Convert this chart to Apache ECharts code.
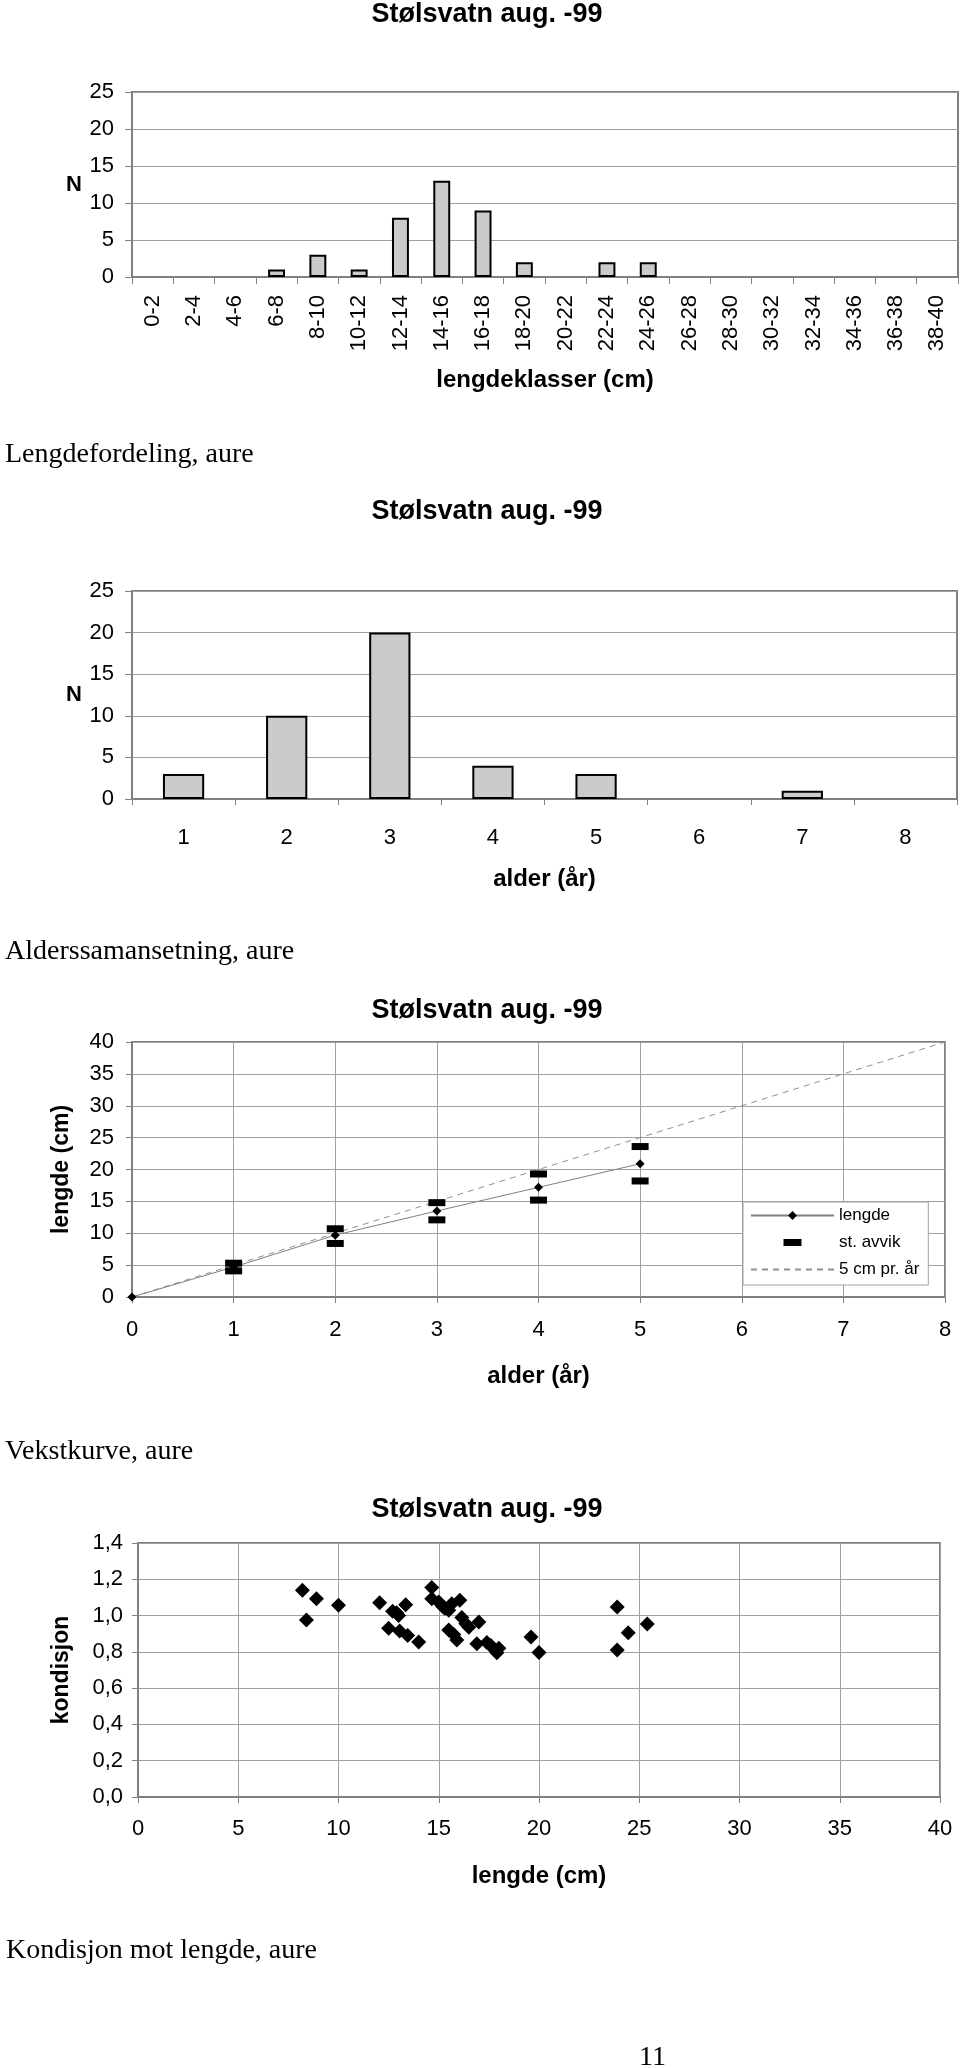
<!DOCTYPE html>
<html>
<head>
<meta charset="utf-8">
<script src="https://cdn.jsdelivr.net/npm/echarts@6/dist/echarts.min.js"></script>
<style>
html,body{margin:0;padding:0;background:#fff;}
#c{width:960px;height:2068px;}
</style>
</head>
<body>
<div id="c"></div>
<script>
// ---------- data ----------
const titleText = 'Stølsvatn aug. -99';
const captions = ['Lengdefordeling, aure', 'Alderssamansetning, aure', 'Vekstkurve, aure', 'Kondisjon mot lengde, aure'];
const pageNumber = '11';

const lengthClasses = ['0-2','2-4','4-6','6-8','8-10','10-12','12-14','14-16','16-18','18-20','20-22','22-24','24-26','26-28','28-30','30-32','32-34','34-36','36-38','38-40'];
const lengthCounts  = [0,0,0,1,3,1,8,13,9,2,0,2,2,0,0,0,0,0,0,0];

const ageClasses = ['1','2','3','4','5','6','7','8'];
const ageCounts  = [3,10,20,4,3,0,1,0];

const growthAges = [0,1,2,3,4,5];
const growthMean = [0,4.7,9.7,13.5,17.2,20.9];
const sdAges  = [1,2,3,4,5];
const sdUpper = [5.3,10.7,14.8,19.3,23.6];
const sdLower = [4.1,8.4,12.1,15.2,18.2];
const refAges   = [0,8];
const refLength = [0,40];

const fishLength    = [8.2,8.4,8.9,10.0,12.05,12.5,12.7,12.9,13.0,13.35,13.05,13.45,14.0,14.65,14.65,15.0,15.2,15.3,15.5,15.65,16.05,15.5,15.75,15.9,16.15,16.35,16.5,17.0,16.9,17.4,17.6,17.8,18.0,17.9,19.6,20.0,23.9,23.9,24.45,25.4];
const fishCondition = [1.14,0.975,1.093,1.057,1.07,0.93,1.024,1.015,1.0,1.06,0.915,0.89,0.855,1.155,1.093,1.075,1.05,1.04,1.03,1.065,1.085,0.92,0.895,0.865,0.99,0.955,0.935,0.965,0.845,0.852,0.835,0.81,0.82,0.795,0.882,0.797,1.047,0.81,0.905,0.953];
const conditionTicks = ['0,0','0,2','0,4','0,6','0,8','1,0','1,2','1,4'];

// ---------- styles ----------
const SANS = '"Liberation Sans", Arial, Helvetica, sans-serif';
const SERIF = '"Liberation Serif", "Times New Roman", serif';
const AXIS_COLOR = '#808080';
const GRID_COLOR = '#a0a0a0';

function axisLine() { return {show:true, onZero:false, lineStyle:{color:AXIS_COLOR, width:2}}; }
function axisTick(extra) { return Object.assign({show:true, length:6, lineStyle:{color:AXIS_COLOR, width:1}}, extra || {}); }
function split(show) { return {show:show, lineStyle:{color:GRID_COLOR, width:1}}; }
function label(margin, extra) { return Object.assign({fontSize:22, color:'#000', fontFamily:SANS, margin:margin}, extra || {}); }
function nameStyle(size) { return {fontSize:size, fontWeight:'bold', color:'#000', fontFamily:SANS}; }
function gridBox(left, top, width, height) {
  return {left:left, top:top, width:width, height:height, show:true, borderColor:AXIS_COLOR, borderWidth:2,
          backgroundColor:'transparent', containLabel:false, outerBoundsMode:'none'};
}

const chart = echarts.init(document.getElementById('c'), null, {renderer:'canvas'});

const option = {
  animation:false,
  backgroundColor:'#fff',
  textStyle:{fontFamily:SANS},
  title:[1, 498.5, 997.5, 1496.5].map(t => ({
    text:titleText, left:487, top:t, textAlign:'center', padding:0,
    textStyle:{fontSize:27, fontWeight:'bold', color:'#000', fontFamily:SANS}
  })),
  grid:[
    gridBox(132, 92, 826, 185),
    gridBox(132, 591, 825, 208),
    gridBox(132, 1042, 813, 255),
    gridBox(138, 1543, 802, 254)
  ],
  xAxis:[
    {gridIndex:0, type:'category', data:lengthClasses, boundaryGap:true,
     axisLine:axisLine(), axisTick:axisTick({alignWithLabel:false, interval:0, length:7}),
     axisLabel:label(18, {rotate:90, interval:0}), splitLine:split(false),
     name:'lengdeklasser (cm)', nameLocation:'middle', nameGap:91, nameTextStyle:nameStyle(24)},
    {gridIndex:1, type:'category', data:ageClasses, boundaryGap:true,
     axisLine:axisLine(), axisTick:axisTick({alignWithLabel:false, interval:0, length:6}),
     axisLabel:label(28, {interval:0}), splitLine:split(false),
     name:'alder (år)', nameLocation:'middle', nameGap:68, nameTextStyle:nameStyle(24)},
    {gridIndex:2, type:'value', min:0, max:8, interval:1,
     axisLine:axisLine(), axisTick:axisTick(), axisLabel:label(22), splitLine:split(true),
     name:'alder (år)', nameLocation:'middle', nameGap:67, nameTextStyle:nameStyle(24)},
    {gridIndex:3, type:'value', min:0, max:40, interval:5,
     axisLine:axisLine(), axisTick:axisTick(), axisLabel:label(21), splitLine:split(true),
     name:'lengde (cm)', nameLocation:'middle', nameGap:67, nameTextStyle:nameStyle(24)}
  ],
  yAxis:[
    {gridIndex:0, type:'value', min:0, max:25, interval:5,
     axisLine:axisLine(), axisTick:axisTick({length:7}), axisLabel:label(18), splitLine:split(true),
     name:'N', nameLocation:'middle', nameRotate:0, nameGap:50, nameTextStyle:nameStyle(22)},
    {gridIndex:1, type:'value', min:0, max:25, interval:5,
     axisLine:axisLine(), axisTick:axisTick({length:7}), axisLabel:label(18), splitLine:split(true),
     name:'N', nameLocation:'middle', nameRotate:0, nameGap:50, nameTextStyle:nameStyle(22)},
    {gridIndex:2, type:'value', min:0, max:40, interval:5,
     axisLine:axisLine(), axisTick:axisTick(), axisLabel:label(18), splitLine:split(true),
     name:'lengde (cm)', nameLocation:'middle', nameGap:59, nameTextStyle:nameStyle(23)},
    {gridIndex:3, type:'value', min:0, max:1.4, interval:0.2,
     axisLine:axisLine(), axisTick:axisTick(), splitLine:split(true),
     axisLabel:label(15, {formatter:v => conditionTicks[Math.round(v / 0.2)]}),
     name:'kondisjon', nameLocation:'middle', nameGap:65, nameTextStyle:nameStyle(23)}
  ],
  legend:{
    left:743, top:1202, orient:'vertical',
    padding:[5,9,7,7], itemWidth:83, itemHeight:11, itemGap:10,
    backgroundColor:'#fff', borderColor:GRID_COLOR, borderWidth:1, borderRadius:0,
    textStyle:{fontSize:17, color:'#000', fontFamily:SANS},
    selectedMode:false,
    data:[
      {name:'lengde'},
      {name:'st. avvik', icon:'path://M0,0M83,11M32.5,2h18v7h-18z'},
      {name:'5 cm pr. år'}
    ]
  },
  series:[
    {type:'bar', xAxisIndex:0, yAxisIndex:0, barWidth:'41%',
     data:lengthCounts.map(v => v === 0 ? null : v),
     itemStyle:{color:'#cbcbcb', borderColor:'#000', borderWidth:2, opacity:1}},
    {type:'bar', xAxisIndex:1, yAxisIndex:1, barWidth:'40%',
     data:ageCounts.map(v => v === 0 ? null : v),
     itemStyle:{color:'#cbcbcb', borderColor:'#000', borderWidth:2, opacity:1}},
    {type:'line', name:'5 cm pr. år', xAxisIndex:2, yAxisIndex:2, z:2,
     data:refAges.map((a, i) => [a, refLength[i]]),
     symbol:'none', itemStyle:{color:'transparent', borderColor:'transparent', borderWidth:0},
     lineStyle:{color:'#909090', width:1, type:[6,5]}},
    {type:'line', name:'lengde', xAxisIndex:2, yAxisIndex:2, z:3,
     data:growthAges.map((a, i) => [a, growthMean[i]]),
     symbol:'diamond', symbolSize:9, showSymbol:true,
     itemStyle:{color:'#000', opacity:1}, lineStyle:{color:'#808080', width:1}},
    {type:'scatter', name:'st. avvik', xAxisIndex:2, yAxisIndex:2, z:4,
     data:sdAges.map((a, i) => [a, sdUpper[i]]).concat(sdAges.map((a, i) => [a, sdLower[i]])),
     symbol:'rect', symbolSize:[17,7], itemStyle:{color:'#000', opacity:1}},
    {type:'scatter', xAxisIndex:3, yAxisIndex:3,
     data:fishLength.map((x, i) => [x, fishCondition[i]]),
     symbol:'diamond', symbolSize:15, itemStyle:{color:'#000', opacity:1}}
  ],
  graphic:[
    {type:'text', x:5, y:454.5, style:{text:captions[0], font:'28px ' + SERIF, fill:'#000', verticalAlign:'middle'}},
    {type:'text', x:5, y:951.5, style:{text:captions[1], font:'28px ' + SERIF, fill:'#000', verticalAlign:'middle'}},
    {type:'text', x:5, y:1452, style:{text:captions[2], font:'28px ' + SERIF, fill:'#000', verticalAlign:'middle'}},
    {type:'text', x:6, y:1950.5, style:{text:captions[3], font:'28px ' + SERIF, fill:'#000', verticalAlign:'middle'}},
    {type:'text', x:652.5, y:2057.5, style:{text:pageNumber, font:'28px ' + SERIF, fill:'#000', align:'center', verticalAlign:'middle'}}
  ]
};
chart.setOption(option);
</script>
</body>
</html>
